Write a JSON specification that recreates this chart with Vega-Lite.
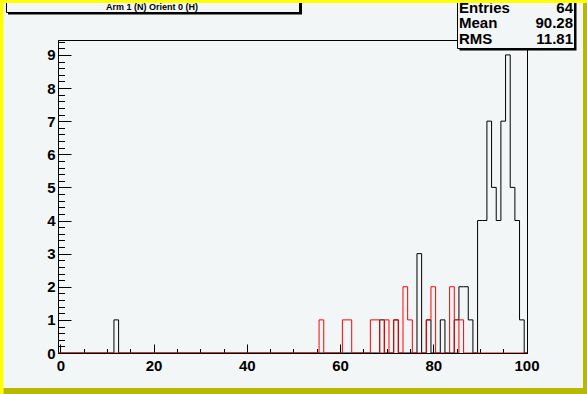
{
  "$schema": "https://vega.github.io/schema/vega-lite/v6.json",
  "width": 469,
  "height": 313,
  "autosize": {"type": "none"},
  "padding": {"left": 58, "top": 40, "right": 60, "bottom": 41},
  "background": "#f3f6f7",
  "config": {
    "view": {"stroke": "black", "strokeWidth": 1, "fill": "#f3f6f7"},
    "font": "Liberation Sans"
  },
  "datasets": {
    "black": [
      {"lo": -0.5, "n": 0}, {"lo": 11.5, "n": 1}, {"lo": 12.5, "n": 0},
      {"lo": 68.5, "n": 1}, {"lo": 69.5, "n": 0}, {"lo": 71.5, "n": 1}, {"lo": 72.5, "n": 0},
      {"lo": 76.5, "n": 3}, {"lo": 77.5, "n": 0}, {"lo": 78.5, "n": 1}, {"lo": 79.5, "n": 0},
      {"lo": 81.5, "n": 1}, {"lo": 82.5, "n": 0}, {"lo": 84.5, "n": 1}, {"lo": 85.5, "n": 2},
      {"lo": 86.5, "n": 2}, {"lo": 87.5, "n": 1}, {"lo": 88.5, "n": 0}, {"lo": 89.5, "n": 4},
      {"lo": 90.5, "n": 4}, {"lo": 91.5, "n": 7}, {"lo": 92.5, "n": 5}, {"lo": 93.5, "n": 4},
      {"lo": 94.5, "n": 7}, {"lo": 95.5, "n": 9}, {"lo": 96.5, "n": 5}, {"lo": 97.5, "n": 4},
      {"lo": 98.5, "n": 1}, {"lo": 99.5, "n": 0}, {"lo": 100.5, "n": 0}
    ],
    "red": [
      {"lo": -0.5, "n": 0}, {"lo": 55.5, "n": 1}, {"lo": 56.5, "n": 0},
      {"lo": 60.5, "n": 1}, {"lo": 61.5, "n": 1}, {"lo": 62.5, "n": 0},
      {"lo": 66.5, "n": 1}, {"lo": 67.5, "n": 1}, {"lo": 68.5, "n": 0},
      {"lo": 69.5, "n": 1}, {"lo": 70.5, "n": 0}, {"lo": 71.5, "n": 1}, {"lo": 72.5, "n": 0},
      {"lo": 73.5, "n": 2}, {"lo": 74.5, "n": 1}, {"lo": 75.5, "n": 0},
      {"lo": 78.5, "n": 1}, {"lo": 79.5, "n": 2}, {"lo": 80.5, "n": 0},
      {"lo": 83.5, "n": 2}, {"lo": 84.5, "n": 0}, {"lo": 85.5, "n": 1}, {"lo": 86.5, "n": 0},
      {"lo": 100.5, "n": 0}
    ],
    "stats": [
      {"stat": "Entries", "value": "64"},
      {"stat": "Mean", "value": "90.28"},
      {"stat": "RMS", "value": "11.81"}
    ],
    "title": [{"title": "Arm 1 (N) Orient 0 (H)"}],
    "one": [{}]
  },
  "layer": [
    {
      "data": {"name": "black"},
      "mark": {"type": "line", "interpolate": "step-after", "color": "black", "strokeWidth": 1, "clip": true},
      "encoding": {
        "x": {
          "field": "lo", "type": "quantitative",
          "scale": {"domain": [-0.5, 100.1], "nice": false, "zero": false},
          "axis": {
            "orient": "bottom", "values": [0, 20, 40, 60, 80, 100], "format": "d",
            "tickSize": -9, "tickColor": "black", "tickWidth": 1,
            "domain": true, "domainColor": "black", "domainWidth": 1,
            "grid": false, "title": null,
            "labelFont": "Liberation Sans", "labelFontWeight": "bold", "labelFontSize": 15,
            "labelColor": "black", "labelPadding": 14, "labelFlush": false, "labelOverlap": false
          }
        },
        "y": {
          "field": "n", "type": "quantitative",
          "scale": {"domain": [0, 9.45], "nice": false, "zero": false},
          "axis": {
            "orient": "left", "values": [0, 1, 2, 3, 4, 5, 6, 7, 8, 9], "format": "d",
            "tickSize": -13, "tickColor": "black", "tickWidth": 1,
            "domain": true, "domainColor": "black", "domainWidth": 1,
            "grid": false, "title": null,
            "labelFont": "Liberation Sans", "labelFontWeight": "bold", "labelFontSize": 15,
            "labelColor": "black", "labelPadding": 16, "labelFlush": false, "labelOverlap": false
          }
        }
      }
    },
    {
      "data": {"name": "red"},
      "mark": {"type": "line", "interpolate": "step-after", "color": "#ff0000", "strokeWidth": 1, "clip": true},
      "encoding": {
        "x": {
          "field": "lo", "type": "quantitative",
          "scale": {"domain": [-0.5, 100.1], "nice": false, "zero": false},
          "axis": {
            "orient": "bottom",
            "values": [5, 10, 15, 25, 30, 35, 45, 50, 55, 65, 70, 75, 85, 90, 95],
            "tickSize": -4.5, "tickColor": "black", "tickWidth": 1,
            "labels": false, "domain": false, "grid": false, "title": null
          }
        },
        "y": {
          "field": "n", "type": "quantitative",
          "scale": {"domain": [0, 9.45], "nice": false, "zero": false},
          "axis": {
            "orient": "left",
            "values": [0.2, 0.4, 0.6, 0.8, 1.2, 1.4, 1.6, 1.8, 2.2, 2.4, 2.6, 2.8, 3.2, 3.4, 3.6, 3.8, 4.2, 4.4, 4.6, 4.8, 5.2, 5.4, 5.6, 5.8, 6.2, 6.4, 6.6, 6.8, 7.2, 7.4, 7.6, 7.8, 8.2, 8.4, 8.6, 8.8, 9.2, 9.4],
            "tickSize": -6.5, "tickColor": "black", "tickWidth": 1,
            "labels": false, "domain": false, "grid": false, "title": null
          }
        }
      }
    },
    {
      "data": {"name": "one"},
      "mark": {"type": "rect", "fill": "black", "clip": false},
      "encoding": {
        "x": {"datum": -11.225, "type": "quantitative", "axis": null},
        "x2": {"datum": 51.838},
        "y": {"datum": 10.22, "type": "quantitative", "axis": null},
        "y2": {"datum": 10.809}
      }
    },
    {
      "data": {"name": "one"},
      "mark": {"type": "rect", "fill": "#f3f6f7", "stroke": "black", "strokeWidth": 1, "clip": false},
      "encoding": {
        "x": {"datum": -11.547, "type": "quantitative", "axis": null},
        "x2": {"datum": 51.302},
        "y": {"datum": 10.28, "type": "quantitative", "axis": null},
        "y2": {"datum": 10.809}
      }
    },
    {
      "data": {"name": "title"},
      "mark": {"type": "text", "align": "center", "baseline": "alphabetic", "font": "Liberation Sans", "fontWeight": "bold", "fontSize": 9, "color": "black", "clip": false},
      "encoding": {
        "x": {"datum": 19.663, "type": "quantitative", "axis": null},
        "y": {"datum": 10.356, "type": "quantitative", "axis": null},
        "text": {"field": "title"}
      }
    },
    {
      "data": {"name": "one"},
      "mark": {"type": "rect", "fill": "black", "clip": false},
      "encoding": {
        "x": {"datum": 85.622, "type": "quantitative", "axis": null},
        "x2": {"datum": 110.718},
        "y": {"datum": 9.133, "type": "quantitative", "axis": null},
        "y2": {"datum": 10.809}
      }
    },
    {
      "data": {"name": "one"},
      "mark": {"type": "rect", "fill": "#f3f6f7", "stroke": "black", "strokeWidth": 1, "clip": false},
      "encoding": {
        "x": {"datum": 85.193, "type": "quantitative", "axis": null},
        "x2": {"datum": 110.289},
        "y": {"datum": 9.193, "type": "quantitative", "axis": null},
        "y2": {"datum": 10.809}
      }
    },
    {
      "data": {"name": "stats"},
      "mark": {"type": "text", "align": "left", "baseline": "alphabetic", "font": "Liberation Sans", "fontWeight": "bold", "fontSize": 15, "color": "black", "clip": false},
      "encoding": {
        "x": {"datum": 85.515, "type": "quantitative", "axis": null},
        "y": {"datum": 10.274, "type": "quantitative", "axis": null},
        "yOffset": {"field": "stat", "type": "nominal", "sort": ["Entries", "Mean", "RMS"], "scale": {"type": "point", "range": [0, 31.3], "padding": 0}},
        "text": {"field": "stat"}
      }
    },
    {
      "data": {"name": "stats"},
      "mark": {"type": "text", "align": "right", "baseline": "alphabetic", "font": "Liberation Sans", "fontWeight": "bold", "fontSize": 15, "color": "black", "clip": false},
      "encoding": {
        "x": {"datum": 109.968, "type": "quantitative", "axis": null},
        "y": {"datum": 10.274, "type": "quantitative", "axis": null},
        "yOffset": {"field": "stat", "type": "nominal", "sort": ["Entries", "Mean", "RMS"], "scale": {"type": "point", "range": [0, 31.3], "padding": 0}},
        "text": {"field": "value"}
      }
    },
    {
      "data": {"name": "one"},
      "mark": {"type": "rect", "fill": "#ffff00", "clip": false},
      "encoding": {
        "x": {"datum": -14.013, "type": "quantitative", "axis": null},
        "x2": {"datum": 115.76},
        "y": {"datum": 10.567, "type": "quantitative", "axis": null},
        "y2": {"datum": 10.809}
      }
    },
    {
      "data": {"name": "one"},
      "mark": {"type": "rect", "fill": "#ffff00", "clip": false},
      "encoding": {
        "x": {"datum": -14.013, "type": "quantitative", "axis": null},
        "x2": {"datum": -12.19},
        "y": {"datum": -1.419, "type": "quantitative", "axis": null},
        "y2": {"datum": 10.809}
      }
    },
    {
      "data": {"name": "one"},
      "mark": {"type": "rect", "fill": "#b8b800", "clip": false},
      "encoding": {
        "x": {"datum": 112.112, "type": "quantitative", "axis": null},
        "x2": {"datum": 115.76},
        "y": {"datum": -1.419, "type": "quantitative", "axis": null},
        "y2": {"datum": 10.567}
      }
    },
    {
      "data": {"name": "one"},
      "mark": {"type": "rect", "fill": "#b8b800", "clip": false},
      "encoding": {
        "x": {"datum": -12.19, "type": "quantitative", "axis": null},
        "x2": {"datum": 115.76},
        "y": {"datum": -1.419, "type": "quantitative", "axis": null},
        "y2": {"datum": -1.057}
      }
    }
  ],
  "resolve": {"axis": {"x": "independent", "y": "independent"}}
}
